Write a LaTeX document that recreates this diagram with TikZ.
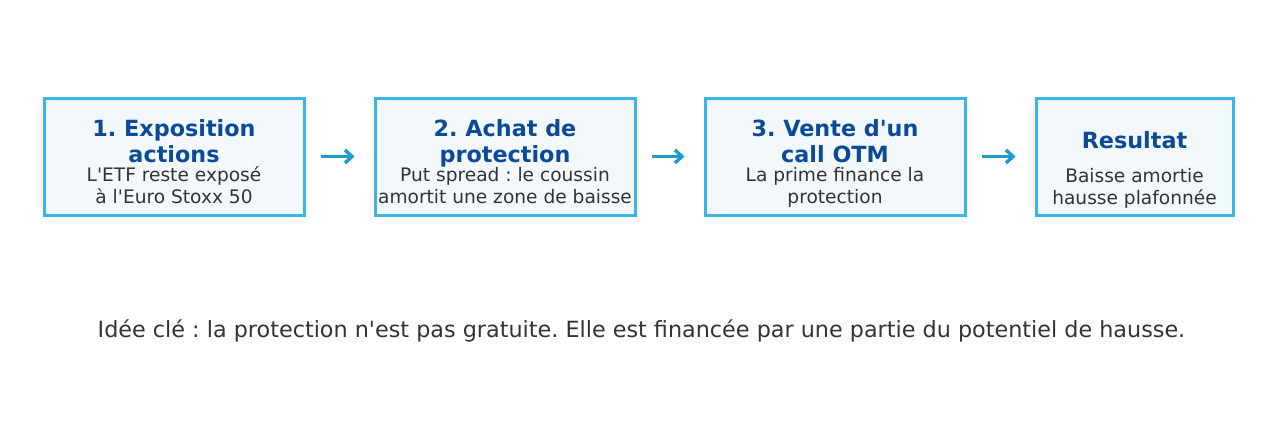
\documentclass[tikz,border=0pt]{standalone}
\usepackage{fontspec}
\newfontfamily\djv{DejaVu Sans}
\usetikzlibrary{arrows.meta}
\frenchspacing
\definecolor{boxborder}{HTML}{3BB4E8}
\definecolor{boxfill}{HTML}{F3F8FC}
\definecolor{titleblue}{HTML}{0B4A99}
\definecolor{bodygray}{HTML}{333333}
\definecolor{arrowblue}{HTML}{1A9CCC}
\tikzset{
  stepbox/.style={draw=boxborder, fill=boxfill, line width=3pt, minimum height=117pt, inner sep=0pt},
  titletext/.style={anchor=base, align=center, text=titleblue, font=\djv\fontsize{22.3}{26}\selectfont\bfseries},
  bodytext/.style={anchor=base, align=center, text=bodygray, font=\djv\fontsize{18.6}{22}\selectfont},
  arr/.style={draw=arrowblue, line width=3.4pt, -{Straight Barb[length=7pt,width=13pt]}, shorten <=15pt, shorten >=19pt}
}
\begin{document}
\begin{tikzpicture}[x=1pt,y=-1pt]
\frenchspacing
\useasboundingbox (0,0) rectangle (1283,432);
\node[stepbox, minimum width=260pt] (b1) at (174,156.5) {};
\node[stepbox, minimum width=260pt] (b2) at (505,156.5) {};
\node[stepbox, minimum width=260pt] (b3) at (835,156.5) {};
\node[stepbox, minimum width=197pt] (b4) at (1134.5,156.5) {};

\node[titletext] (t1) at (174,162) {1. Exposition\\actions};
\node[bodytext] (d1) at (174,203.5) {L'ETF reste exposé\\à l'Euro Stoxx 50};
\node[titletext] (t2) at (505,162) {2. Achat de\\protection};
\node[bodytext] (d2) at (505,203.5) {Put spread : le coussin\\amortit une zone de baisse};
\node[titletext] (t3) at (835,162) {3. Vente d'un\\call OTM};
\node[bodytext] (d3) at (835,203.5) {La prime finance la\\protection};
\node[titletext] (t4) at (1134.5,148) {Resultat};
\node[bodytext] (d4) at (1134.5,204) {Baisse amortie\\hausse plafonnée};

\draw[arr] (b1) -- (b2);
\draw[arr] (b2) -- (b3);
\draw[arr] (b3) -- (b4);

\node[anchor=base, text=bodygray, font=\djv\fontsize{22.3}{26}\selectfont] (key) at (641.5,337) {Idée clé : la protection n'est pas gratuite. Elle est financée par une partie du potentiel de hausse.};
\end{tikzpicture}
\end{document}
